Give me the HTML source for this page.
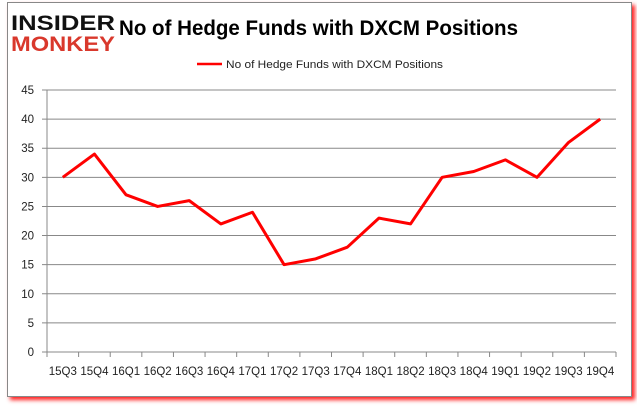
<!DOCTYPE html>
<html><head><meta charset="utf-8"><style>
body{margin:0;width:637px;height:408px;background:#fff;overflow:hidden;font-family:"Liberation Sans",sans-serif}
#frame{position:absolute;left:7px;top:2px;width:623px;height:393px;border:1px solid #888;background:#fff;box-shadow:3px 3px 4px #f22}
</style></head><body>
<div id="frame"></div>
<svg width="637" height="408" style="position:absolute;left:0;top:0">
<g font-family="Liberation Sans" font-weight="bold">
<text x="11" y="30" font-size="21" fill="#111" textLength="104" lengthAdjust="spacingAndGlyphs">INSIDER</text>
<text x="11" y="51" font-size="21" fill="#d9382c" textLength="104" lengthAdjust="spacingAndGlyphs">MONKEY</text>
</g>
<text x="119" y="35" font-size="21" font-weight="bold" fill="#000" textLength="399" lengthAdjust="spacingAndGlyphs">No of Hedge Funds with DXCM Positions</text>
<line x1="197" y1="64" x2="222" y2="64" stroke="#f00" stroke-width="2.5"/>
<text x="226" y="68" font-size="11" fill="#222" textLength="217" lengthAdjust="spacingAndGlyphs">No of Hedge Funds with DXCM Positions</text>
<g id="grid"></g><g id="axes"></g><g id="series"></g>
</svg>
<script>
const categories=["15Q3","15Q4","16Q1","16Q2","16Q3","16Q4","17Q1","17Q2","17Q3","17Q4","18Q1","18Q2","18Q3","18Q4","19Q1","19Q2","19Q3","19Q4"];
const values=[30,34,27,25,26,22,24,15,16,18,23,22,30,31,33,30,36,40];
const yTicks=[0,5,10,15,20,25,30,35,40,45];
const L=47,R=616,T=90,B=352,yMax=45;
const NS="http://www.w3.org/2000/svg";
const step=(R-L)/categories.length;
const x=i=>L+step*(i+0.5);
const y=v=>B-(v/yMax)*(B-T);
function mk(tag,attrs,parent){const e=document.createElementNS(NS,tag);for(const k in attrs)e.setAttribute(k,attrs[k]);document.getElementById(parent).appendChild(e);return e;}
yTicks.forEach(v=>{
 const g=mk('line',{x1:L-5,x2:R,y1:y(v),y2:y(v),stroke:'#888','stroke-width':1},'grid');
 
 
 const t=mk('text',{x:L-13,y:y(v)+4,'text-anchor':'end','font-size':11.5,fill:'#222'},'axes');
 t.textContent=v;
 
 
});
const ax=mk('line',{x1:L,x2:L,y1:T,y2:B,stroke:'#888'},'axes');


for(let i=0;i<=categories.length;i++){
 const tk=mk('line',{x1:L+step*i,x2:L+step*i,y1:B,y2:B+5,stroke:'#888'},'axes');
 
 
}
categories.forEach((c,i)=>{
 const t=mk('text',{x:x(i),y:B+23,'text-anchor':'middle','font-size':11.5,fill:'#222'},'axes');
 t.textContent=c;
 
 
});
const p=mk('polyline',{points:values.map((v,i)=>x(i)+','+y(v)).join(' '),fill:'none',stroke:'#f00','stroke-width':3,'stroke-linejoin':'round'},'series');


</script>
</body></html>
